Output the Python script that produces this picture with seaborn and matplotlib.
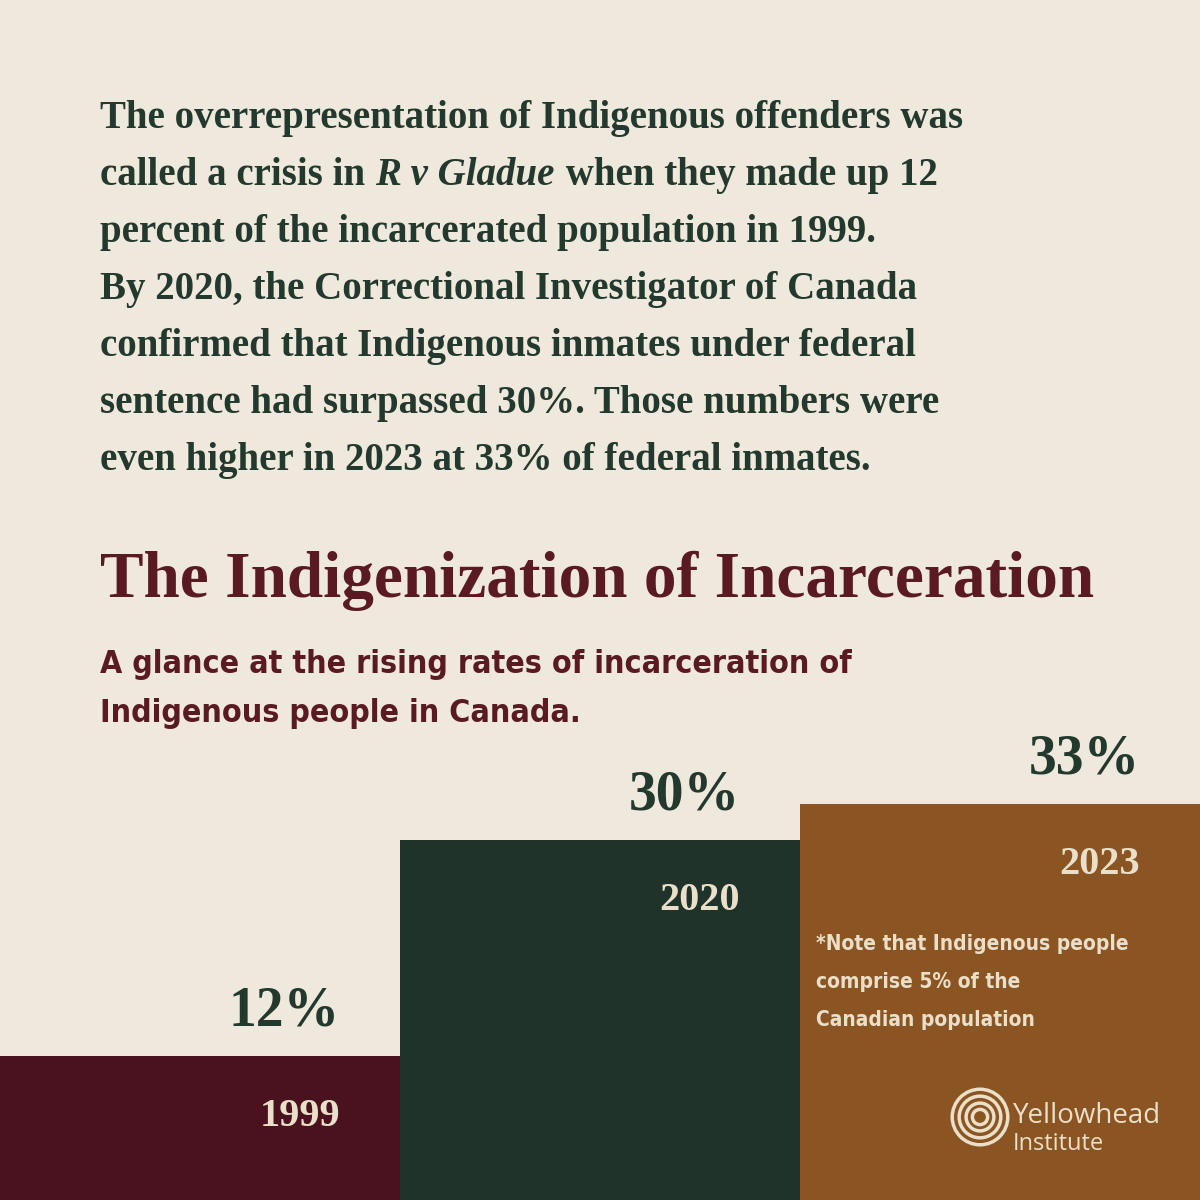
import seaborn as sns
import matplotlib.pyplot as plt
import pandas as pd

years = ["1999", "2020", "2023"]
shares = [12, 30, 33]
pct_labels = ["12%", "30%", "33%"]
bar_colors = ["#4a121e", "#1f332a", "#8b5423"]

BG = "#efe8dc"
GREEN = "#24392e"
MAROON = "#5a1a24"
CREAM = "#eadfc8"

sns.set_theme(style="white")
plt.rcParams["font.family"] = ["Liberation Serif", "DejaVu Serif"]

fig = plt.figure(figsize=(12, 12), dpi=100, facecolor=BG)
ax = fig.add_axes([0, 0, 1, 1])
ax.set_facecolor(BG)

df = pd.DataFrame({"year": years, "share": shares})
sns.barplot(data=df, x="year", y="share", hue="year", palette=bar_colors,
            width=1.0, legend=False, ax=ax, saturation=1, linewidth=0)
ax.set_xlim(-0.5, 2.5)
ax.set_ylim(0, 100)
ax.axis("off")

# percent labels above bars, year labels inside
for i, (v, p, y) in enumerate(zip(shares, pct_labels, years)):
    ax.text(i + 0.35, v + 1.5, p, ha="right", va="bottom", fontsize=40,
            fontweight="bold", color=GREEN)
    ax.text(i + 0.35, v - 3.5, y, ha="right", va="top", fontsize=29,
            fontweight="bold", color=CREAM)

# paragraph
para = [
    [("The overrepresentation of Indigenous offenders was", "normal")],
    [("called a crisis in ", "normal"), ("R v Gladue", "italic"),
     (" when they made up 12", "normal")],
    [("percent of the incarcerated population in 1999.", "normal")],
    [("By 2020, the Correctional Investigator of Canada", "normal")],
    [("confirmed that Indigenous inmates under federal", "normal")],
    [("sentence had surpassed 30%. Those numbers were", "normal")],
    [("even higher in 2023 at 33% of federal inmates.", "normal")],
]
fig.canvas.draw()
r = fig.canvas.get_renderer()
for li, parts in enumerate(para):
    x = 100
    ypix = 1200 - (128 + li * 57)
    for txt, style in parts:
        t = fig.text(x / 1200, ypix / 1200, txt, fontsize=28, fontweight="bold",
                     style=style, color=GREEN, va="baseline", ha="left")
        x = t.get_window_extent(r).x1 + (0 if style == "normal" else 2)

fig.text(100 / 1200, 1 - 597 / 1200, "The Indigenization of Incarceration",
         fontsize=47, fontweight="bold", color=MAROON, va="baseline")

sans = dict(family="DejaVu Sans", fontstretch="condensed")
fig.text(100 / 1200, 1 - 673 / 1200, "A glance at the rising rates of incarceration of",
         fontsize=23, fontweight="bold", color=MAROON, va="baseline", **sans)
fig.text(100 / 1200, 1 - 722 / 1200, "Indigenous people in Canada.",
         fontsize=23, fontweight="bold", color=MAROON, va="baseline", **sans)

note = ["*Note that Indigenous people", "comprise 5% of the", "Canadian population"]
for k, line in enumerate(note):
    fig.text(816 / 1200, 1 - (950 + k * 38) / 1200, line, fontsize=15,
             fontweight="bold", color=CREAM, va="baseline", **sans)

# logo
for s in [1600, 900, 400, 120]:
    ax.scatter([980 / 1200], [1 - 1117 / 1200], s=s, facecolors="none",
               edgecolors=CREAM, linewidths=2.5, transform=fig.transFigure)
fig.text(1013 / 1200, 1 - 1123 / 1200, "Yellowhead", fontsize=20,
         color=CREAM, va="baseline", family=["Open Sans", "DejaVu Sans"])
fig.text(1013 / 1200, 1 - 1150 / 1200, "Institute", fontsize=17,
         color=CREAM, va="baseline", family=["Open Sans", "DejaVu Sans"])

fig.savefig("out.png", dpi=100, facecolor=BG)
